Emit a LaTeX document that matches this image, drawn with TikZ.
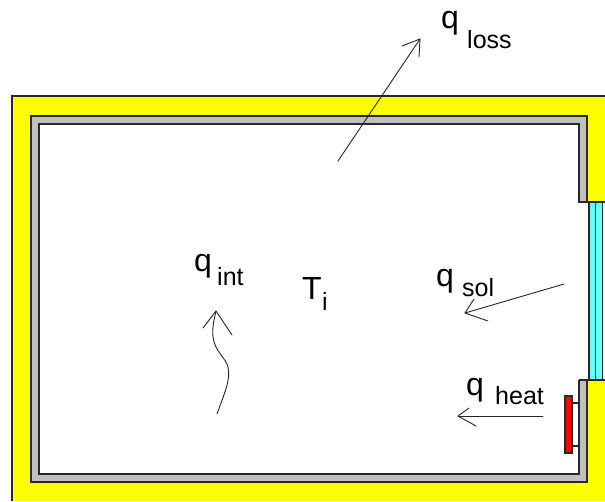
\documentclass[tikz,border=0pt]{standalone}
\usepackage{fontspec}
\setmainfont{Liberation Sans}
\definecolor{wallyellow}{RGB}{255,255,0}
\definecolor{wallgray}{RGB}{192,192,192}
\definecolor{wincyan}{RGB}{102,255,255}
\definecolor{edgegray}{RGB}{40,40,40}
\tikzset{
  wall/.style={draw=edgegray,line width=1.6pt},
  thin arrow/.style={draw=black!85,line width=0.9pt,line join=round,line cap=round},
  qlabel/.style={inner sep=0pt,anchor=base west,font=\fontsize{32}{32}\selectfont},
  sublabel/.style={inner sep=0pt,anchor=base west,font=\fontsize{25}{25}\selectfont},
}
\begin{document}
\begin{tikzpicture}[x=1pt,y=-1pt]
\useasboundingbox (0,0) rectangle (605,501);
% yellow insulation
\fill[wallyellow] (12,96) rectangle (605,501);
\draw[wall] (605,96) -- (12,96) -- (12,501);
% gray wall
\fill[wallgray] (31,116) rectangle (587,482);
\fill[white] (39,124) rectangle (579,474);
\fill[white] (579,202) rectangle (605,380);
\draw[wall] (587,202) -- (587,116) -- (31,116) -- (31,482) -- (587,482) -- (587,380);
\draw[wall] (579,202) -- (579,124) -- (39,124) -- (39,474) -- (579,474) -- (579,380);
% window
\fill[wincyan] (589,202) rectangle (603,380);
\draw[draw=edgegray,line width=1.3pt] (589,202) -- (589,380) (595.5,202) -- (595.5,380) (602.5,202) -- (602.5,380);
\draw[wall] (578,202) -- (605,202);
\draw[wall] (579,380) -- (605,380);
% radiator
\node[draw=edgegray,fill=red,line width=1.4pt,inner sep=0pt,minimum width=7pt,minimum height=57pt] (rad) at (568.5,424.5) {};
\coordinate (wallA) at (579,403);
\coordinate (wallB) at (579,446);
\draw[edgegray,line width=1.2pt] (rad.east |- wallA) -- (wallA);
\draw[edgegray,line width=1.2pt] (rad.east |- wallB) -- (wallB);
% labels
\node[qlabel] (qloss) at (441,28) {q};
\node[sublabel] (loss) at (467,48) {loss};
\node[qlabel] (qint) at (194,271) {q};
\node[sublabel] (int) at (217,285) {int};
\node[qlabel] (Ti) at (302,299) {T};
\node[sublabel] (isub) at (322,310) {i};
\node[qlabel] (qsol) at (436,286) {q};
\node[sublabel] (sol) at (462,296) {sol};
\node[qlabel] (qheat) at (466,395) {q};
\node[sublabel] (heat) at (495,404) {heat};
% q loss arrow
\coordinate (ls) at (338,161); \coordinate (lt) at (420,39);
\coordinate (lb1) at (402,46); \coordinate (lb2) at (419,57);
\draw[thin arrow] (ls) -- (lt);
\draw[thin arrow] (lb1) -- (lt) -- (lb2);
% q int arrow
\coordinate (is) at (217,414); \coordinate (it) at (216,311);
\coordinate (ib1) at (203,328); \coordinate (ib2) at (232,335);
\draw[thin arrow] (is) .. controls (224,394) and (231,380) .. (228,367) .. controls (226,358) and (215,352) .. (213,337) .. controls (212,328) and (214,320) .. (it);
\draw[thin arrow] (ib1) -- (it) -- (ib2);
% q sol arrow
\coordinate (ss) at (564,284); \coordinate (st) at (465,313);
\coordinate (sb1) at (474,299); \coordinate (sb2) at (488,321);
\draw[thin arrow] (ss) -- (st);
\draw[thin arrow] (sb1) -- (st) -- (sb2);
% q heat arrow
\coordinate (hs) at (543,416); \coordinate (ht) at (458,416);
\coordinate (hb1) at (469,408); \coordinate (hb2) at (476,426);
\draw[thin arrow] (hs) -- (ht);
\draw[thin arrow] (hb1) -- (ht) -- (hb2);
\end{tikzpicture}
\end{document}
